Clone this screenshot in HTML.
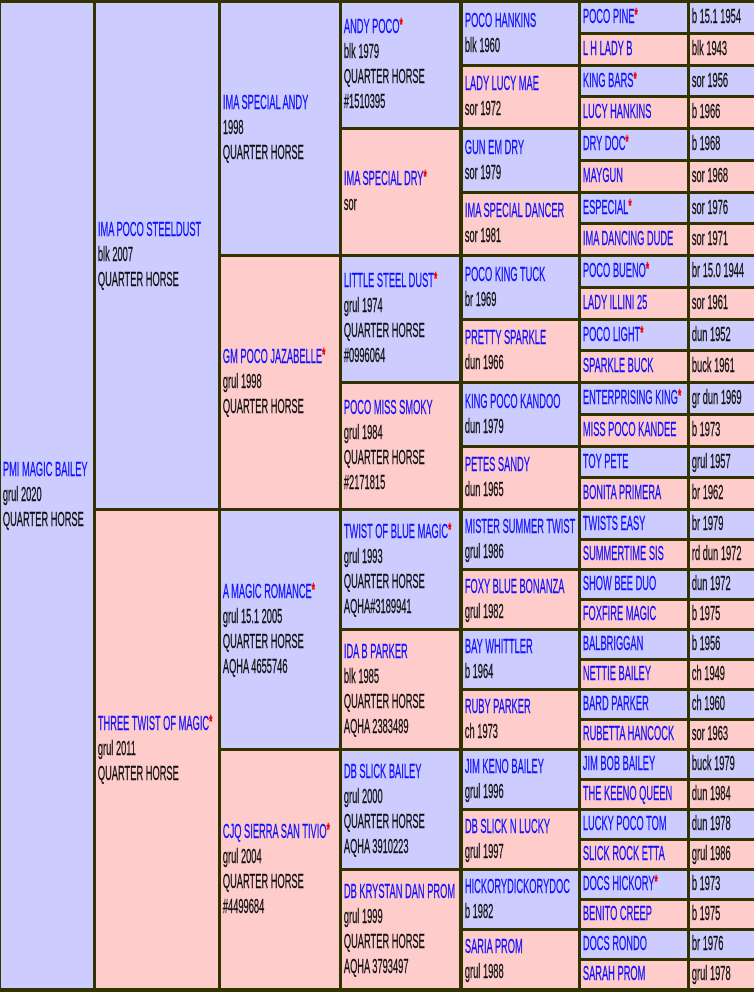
<!DOCTYPE html>
<html><head><meta charset="utf-8"><style>
html,body{margin:0;padding:0}
body{width:754px;height:992px;background:#333300;position:relative;overflow:hidden;font-family:"Liberation Sans",sans-serif;font-size:20px}
.c{position:absolute;display:flex;flex-direction:column;justify-content:center;overflow:hidden}
.b{background:#ccccff}.p{background:#ffcccc}
.c>div{transform:scaleX(0.465);transform-origin:left center;white-space:nowrap;line-height:25px;padding-left:4px;color:#111;-webkit-text-stroke:0.4px currentColor}
.n{color:#1010ff}
.s{color:#ee0000;font-weight:bold;font-size:18px;vertical-align:top;position:relative;top:-2px}
.c1{left:1px;width:92px}.c2{left:96px;width:122px}.c3{left:221px;width:118px}.c4{left:342px;width:117px}.c5{left:463px;width:115px}.c6{left:581px;width:106px}.c7{left:690px;width:64px}
</style></head><body>
<div class="c c1 b" style="top:3px;height:985px"><div><span class="n">PMI MAGIC BAILEY</span><br>grul 2020<br>QUARTER HORSE</div></div>

<div class="c c2 b" style="top:3px;height:505px"><div><span class="n">IMA POCO STEELDUST</span><br>blk 2007<br>QUARTER HORSE</div></div>
<div class="c c2 p" style="top:511px;height:477px"><div><span class="n">THREE TWIST OF MAGIC</span><span class="s">*</span><br>grul 2011<br>QUARTER HORSE</div></div>

<div class="c c3 b" style="top:3px;height:251px"><div><span class="n">IMA SPECIAL ANDY</span><br>1998<br>QUARTER HORSE</div></div>
<div class="c c3 p" style="top:257px;height:251px"><div><span class="n">GM POCO JAZABELLE</span><span class="s">*</span><br>grul 1998<br>QUARTER HORSE</div></div>
<div class="c c3 b" style="top:511px;height:237px"><div><span class="n">A MAGIC ROMANCE</span><span class="s">*</span><br>grul 15.1 2005<br>QUARTER HORSE<br>AQHA 4655746</div></div>
<div class="c c3 p" style="top:751px;height:237px"><div><span class="n">CJQ SIERRA SAN TIVIO</span><span class="s">*</span><br>grul 2004<br>QUARTER HORSE<br>#4499684</div></div>

<div class="c c4 b" style="top:3px;height:124px"><div><span class="n">ANDY POCO</span><span class="s">*</span><br>blk 1979<br>QUARTER HORSE<br>#1510395</div></div>
<div class="c c4 p" style="top:130px;height:124px"><div><span class="n">IMA SPECIAL DRY</span><span class="s">*</span><br>sor</div></div>
<div class="c c4 b" style="top:257px;height:124px"><div><span class="n">LITTLE STEEL DUST</span><span class="s">*</span><br>grul 1974<br>QUARTER HORSE<br>#0996064</div></div>
<div class="c c4 p" style="top:384px;height:124px"><div><span class="n">POCO MISS SMOKY</span><br>grul 1984<br>QUARTER HORSE<br>#2171815</div></div>
<div class="c c4 b" style="top:511px;height:117px"><div><span class="n">TWIST OF BLUE MAGIC</span><span class="s">*</span><br>grul 1993<br>QUARTER HORSE<br>AQHA#3189941</div></div>
<div class="c c4 p" style="top:631px;height:117px"><div><span class="n">IDA B PARKER</span><br>blk 1985<br>QUARTER HORSE<br>AQHA 2383489</div></div>
<div class="c c4 b" style="top:751px;height:117px"><div><span class="n">DB SLICK BAILEY</span><br>grul 2000<br>QUARTER HORSE<br>AQHA 3910223</div></div>
<div class="c c4 p" style="top:871px;height:117px"><div><span class="n">DB KRYSTAN DAN PROM</span><br>grul 1999<br>QUARTER HORSE<br>AQHA 3793497</div></div>

<div class="c c5 b" style="top:3px;height:61px"><div><span class="n">POCO HANKINS</span><br>blk 1960</div></div>
<div class="c c5 p" style="top:67px;height:60px"><div><span class="n">LADY LUCY MAE</span><br>sor 1972</div></div>
<div class="c c5 b" style="top:130px;height:61px"><div><span class="n">GUN EM DRY</span><br>sor 1979</div></div>
<div class="c c5 p" style="top:194px;height:60px"><div><span class="n">IMA SPECIAL DANCER</span><br>sor 1981</div></div>
<div class="c c5 b" style="top:257px;height:61px"><div><span class="n">POCO KING TUCK</span><br>br 1969</div></div>
<div class="c c5 p" style="top:321px;height:60px"><div><span class="n">PRETTY SPARKLE</span><br>dun 1966</div></div>
<div class="c c5 b" style="top:384px;height:61px"><div><span class="n">KING POCO KANDOO</span><br>dun 1979</div></div>
<div class="c c5 p" style="top:448px;height:60px"><div><span class="n">PETES SANDY</span><br>dun 1965</div></div>
<div class="c c5 b" style="top:511px;height:57px"><div><span class="n">MISTER SUMMER TWIST</span><br>grul 1986</div></div>
<div class="c c5 p" style="top:571px;height:57px"><div><span class="n">FOXY BLUE BONANZA</span><br>grul 1982</div></div>
<div class="c c5 b" style="top:631px;height:57px"><div><span class="n">BAY WHITTLER</span><br>b 1964</div></div>
<div class="c c5 p" style="top:691px;height:57px"><div><span class="n">RUBY PARKER</span><br>ch 1973</div></div>
<div class="c c5 b" style="top:751px;height:57px"><div><span class="n">JIM KENO BAILEY</span><br>grul 1996</div></div>
<div class="c c5 p" style="top:811px;height:57px"><div><span class="n">DB SLICK N LUCKY</span><br>grul 1997</div></div>
<div class="c c5 b" style="top:871px;height:57px"><div><span class="n">HICKORYDICKORYDOC</span><br>b 1982</div></div>
<div class="c c5 p" style="top:931px;height:57px"><div><span class="n">SARIA PROM</span><br>grul 1988</div></div>

<div class="c c6 b" style="top:3px;height:29px"><div><span class="n">POCO PINE</span><span class="s">*</span></div></div><div class="c c7 b" style="top:3px;height:29px"><div>b 15.1 1954</div></div>
<div class="c c6 p" style="top:35px;height:29px"><div><span class="n">L H LADY B</span></div></div><div class="c c7 p" style="top:35px;height:29px"><div>blk 1943</div></div>
<div class="c c6 b" style="top:67px;height:28px"><div><span class="n">KING BARS</span><span class="s">*</span></div></div><div class="c c7 b" style="top:67px;height:28px"><div>sor 1956</div></div>
<div class="c c6 p" style="top:98px;height:29px"><div><span class="n">LUCY HANKINS</span></div></div><div class="c c7 p" style="top:98px;height:29px"><div>b 1966</div></div>
<div class="c c6 b" style="top:130px;height:29px"><div><span class="n">DRY DOC</span><span class="s">*</span></div></div><div class="c c7 b" style="top:130px;height:29px"><div>b 1968</div></div>
<div class="c c6 p" style="top:162px;height:29px"><div><span class="n">MAYGUN</span></div></div><div class="c c7 p" style="top:162px;height:29px"><div>sor 1968</div></div>
<div class="c c6 b" style="top:194px;height:28px"><div><span class="n">ESPECIAL</span><span class="s">*</span></div></div><div class="c c7 b" style="top:194px;height:28px"><div>sor 1976</div></div>
<div class="c c6 p" style="top:225px;height:29px"><div><span class="n">IMA DANCING DUDE</span></div></div><div class="c c7 p" style="top:225px;height:29px"><div>sor 1971</div></div>
<div class="c c6 b" style="top:257px;height:29px"><div><span class="n">POCO BUENO</span><span class="s">*</span></div></div><div class="c c7 b" style="top:257px;height:29px"><div>br 15.0 1944</div></div>
<div class="c c6 p" style="top:289px;height:29px"><div><span class="n">LADY ILLINI 25</span></div></div><div class="c c7 p" style="top:289px;height:29px"><div>sor 1961</div></div>
<div class="c c6 b" style="top:321px;height:28px"><div><span class="n">POCO LIGHT</span><span class="s">*</span></div></div><div class="c c7 b" style="top:321px;height:28px"><div>dun 1952</div></div>
<div class="c c6 p" style="top:352px;height:29px"><div><span class="n">SPARKLE BUCK</span></div></div><div class="c c7 p" style="top:352px;height:29px"><div>buck 1961</div></div>
<div class="c c6 b" style="top:384px;height:29px"><div><span class="n">ENTERPRISING KING</span><span class="s">*</span></div></div><div class="c c7 b" style="top:384px;height:29px"><div>gr dun 1969</div></div>
<div class="c c6 p" style="top:416px;height:29px"><div><span class="n">MISS POCO KANDEE</span></div></div><div class="c c7 p" style="top:416px;height:29px"><div>b 1973</div></div>
<div class="c c6 b" style="top:448px;height:28px"><div><span class="n">TOY PETE</span></div></div><div class="c c7 b" style="top:448px;height:28px"><div>grul 1957</div></div>
<div class="c c6 p" style="top:479px;height:29px"><div><span class="n">BONITA PRIMERA</span></div></div><div class="c c7 p" style="top:479px;height:29px"><div>br 1962</div></div>
<div class="c c6 b" style="top:511px;height:27px"><div><span class="n">TWISTS EASY</span></div></div><div class="c c7 b" style="top:511px;height:27px"><div>br 1979</div></div>
<div class="c c6 p" style="top:541px;height:27px"><div><span class="n">SUMMERTIME SIS</span></div></div><div class="c c7 p" style="top:541px;height:27px"><div>rd dun 1972</div></div>
<div class="c c6 b" style="top:571px;height:27px"><div><span class="n">SHOW BEE DUO</span></div></div><div class="c c7 b" style="top:571px;height:27px"><div>dun 1972</div></div>
<div class="c c6 p" style="top:601px;height:27px"><div><span class="n">FOXFIRE MAGIC</span></div></div><div class="c c7 p" style="top:601px;height:27px"><div>b 1975</div></div>
<div class="c c6 b" style="top:631px;height:27px"><div><span class="n">BALBRIGGAN</span></div></div><div class="c c7 b" style="top:631px;height:27px"><div>b 1956</div></div>
<div class="c c6 p" style="top:661px;height:27px"><div><span class="n">NETTIE BAILEY</span></div></div><div class="c c7 p" style="top:661px;height:27px"><div>ch 1949</div></div>
<div class="c c6 b" style="top:691px;height:27px"><div><span class="n">BARD PARKER</span></div></div><div class="c c7 b" style="top:691px;height:27px"><div>ch 1960</div></div>
<div class="c c6 p" style="top:721px;height:27px"><div><span class="n">RUBETTA HANCOCK</span></div></div><div class="c c7 p" style="top:721px;height:27px"><div>sor 1963</div></div>
<div class="c c6 b" style="top:751px;height:27px"><div><span class="n">JIM BOB BAILEY</span></div></div><div class="c c7 b" style="top:751px;height:27px"><div>buck 1979</div></div>
<div class="c c6 p" style="top:781px;height:27px"><div><span class="n">THE KEENO QUEEN</span></div></div><div class="c c7 p" style="top:781px;height:27px"><div>dun 1984</div></div>
<div class="c c6 b" style="top:811px;height:27px"><div><span class="n">LUCKY POCO TOM</span></div></div><div class="c c7 b" style="top:811px;height:27px"><div>dun 1978</div></div>
<div class="c c6 p" style="top:841px;height:27px"><div><span class="n">SLICK ROCK ETTA</span></div></div><div class="c c7 p" style="top:841px;height:27px"><div>grul 1986</div></div>
<div class="c c6 b" style="top:871px;height:27px"><div><span class="n">DOCS HICKORY</span><span class="s">*</span></div></div><div class="c c7 b" style="top:871px;height:27px"><div>b 1973</div></div>
<div class="c c6 p" style="top:901px;height:27px"><div><span class="n">BENITO CREEP</span></div></div><div class="c c7 p" style="top:901px;height:27px"><div>b 1975</div></div>
<div class="c c6 b" style="top:931px;height:27px"><div><span class="n">DOCS RONDO</span></div></div><div class="c c7 b" style="top:931px;height:27px"><div>br 1976</div></div>
<div class="c c6 p" style="top:961px;height:27px"><div><span class="n">SARAH PROM</span></div></div><div class="c c7 p" style="top:961px;height:27px"><div>grul 1978</div></div>
</body></html>
